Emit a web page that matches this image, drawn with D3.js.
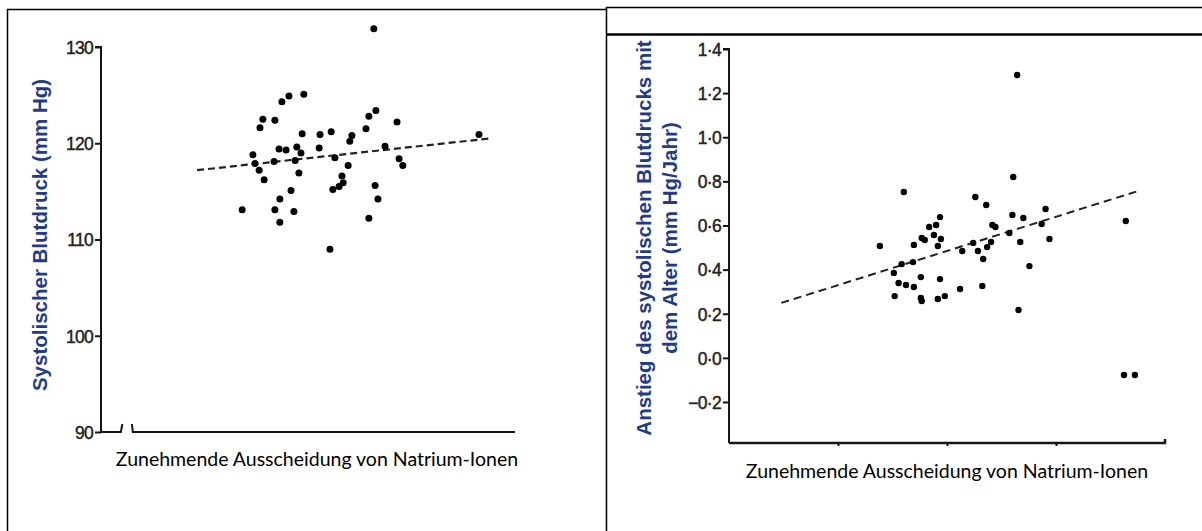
<!DOCTYPE html>
<html>
<head>
<meta charset="utf-8">
<script src="https://cdn.jsdelivr.net/npm/d3@7"></script>
<style>
  body { margin: 0; background: #fff; }
  svg { display: block; }
</style>
</head>
<body>
<div id="chart"></div>
<script>
// left panel: systolic pressure vs sodium excretion (x has no units, 0-100)
const sodiumA = [65.9, 43.7, 45.4, 49.0, 39.1, 38.4, 42.0, 64.7, 66.4, 71.5, 64.0, 48.6, 52.9, 55.6, 60.6, 60.1,
  43.0, 44.7, 47.3, 48.3, 52.7, 68.6, 36.7, 37.2, 38.2, 41.8, 46.9, 56.5, 59.7, 72.0, 72.9, 47.8,
  39.4, 58.2, 58.5, 57.5, 56.0, 45.9, 66.2, 66.9, 43.2, 34.1, 42.0, 46.6, 43.2, 64.7, 55.3, 91.3];
const pressureA = [131.9, 124.3, 124.9, 125.1, 122.5, 121.6, 122.4, 122.8, 123.4, 122.2, 121.5, 121.0, 120.9, 121.2, 120.8, 120.2,
  119.4, 119.3, 119.6, 119.0, 119.5, 119.7, 118.8, 117.9, 117.2, 118.1, 118.2, 118.5, 117.7, 118.4, 117.7, 116.9,
  116.2, 116.6, 115.9, 115.5, 115.2, 115.1, 115.6, 114.2, 114.2, 113.1, 113.1, 112.9, 111.8, 112.2, 109.0, 120.9];
const trendA = [[23.2, 117.2], [94.0, 120.5]];
const ticksA = [90, 100, 110, 120, 130];

// right panel: rise of systolic pressure with age vs sodium excretion
const sodiumB = [66.1, 65.2, 40.1, 56.5, 59.0, 72.6, 65.0, 48.4, 67.5, 91.0, 71.7, 47.5, 45.9, 60.4, 61.1, 64.3,
  47.0, 44.2, 44.9, 48.6, 73.5, 56.0, 60.1, 66.8, 34.6, 42.4, 47.9, 59.2, 53.5, 57.1, 58.3, 42.2,
  39.6, 68.9, 37.8, 44.0, 48.4, 38.9, 40.6, 42.4, 53.0, 58.1, 38.0, 44.0, 44.2, 47.9, 49.5, 66.4, 90.6, 93.1];
const riseB = [1.282, 0.820, 0.752, 0.729, 0.693, 0.675, 0.648, 0.638, 0.634, 0.620, 0.607, 0.602, 0.593, 0.602, 0.593, 0.566,
  0.557, 0.543, 0.534, 0.539, 0.539, 0.521, 0.525, 0.525, 0.507, 0.512, 0.507, 0.502, 0.484, 0.484, 0.448, 0.434,
  0.425, 0.416, 0.385, 0.366, 0.357, 0.339, 0.330, 0.321, 0.312, 0.326, 0.280, 0.271, 0.258, 0.267, 0.280, 0.217, -0.078, -0.078];
const trendB = [[12.0, 0.249], [93.8, 0.756]];
const ticksB = [-0.2, 0, 0.2, 0.4, 0.6, 0.8, 1.0, 1.2, 1.4];
const xTicksB = [25, 50, 75];

const xTitle = "Zunehmende Ausscheidung von Natrium-Ionen";
const yTitleA = ["Systolischer Blutdruck (mm Hg)"];
const yTitleB = ["Anstieg des systolischen Blutdrucks mit", "dem Alter (mm Hg/Jahr)"];

const W = 1202, H = 531;
const ink = "#151515";
const titleBlue = "#1f3c88";
const tickFont = "'Liberation Sans', Arial, sans-serif";

const svg = d3.select("#chart").append("svg")
  .attr("width", W)
  .attr("height", H);

// table frame around both pictures
const frame = svg.append("g").attr("stroke", "#000").attr("fill", "none");
frame.append("path").attr("d", "M7.5,531V9.5H606.5").attr("stroke-width", 1.5);
frame.append("path").attr("d", "M606.5,7V531").attr("stroke-width", 1.5);
frame.append("path").attr("d", "M606,7.5H1202").attr("stroke-width", 1.5);
frame.append("path").attr("d", "M606,34.5H1202").attr("stroke-width", 2.5);

function styleTicks(g) {
  g.selectAll(".tick line").attr("stroke", ink).attr("stroke-width", 2);
  g.selectAll(".tick text")
    .attr("fill", "#222").attr("stroke", "#222").attr("stroke-width", 0.45)
    .attr("font-family", tickFont).attr("font-size", 17.5)
    .attr("letter-spacing", -0.7).attr("dy", "0.36em");
}

// ---------- left panel ----------
const xA = d3.scaleLinear().domain([0, 100]).range([101, 515]);
const yA = d3.scaleLinear().domain([90, 130]).range([432, 47]);
const gA = svg.append("g");

gA.append("g")
  .attr("transform", `translate(${xA(0)},0)`)
  .call(d3.axisLeft(yA).tickValues(ticksA).tickSize(6).tickPadding(2).tickFormat(d3.format("d")))
  .call(g => g.select(".domain").attr("stroke", ink).attr("stroke-width", 2).attr("d", `M-6,${yA(130)}H0V${yA(90)}`))
  .call(styleTicks);

// broken x axis
const breakA = [4.8, 7.7];
gA.append("path")
  .attr("fill", "none").attr("stroke", ink).attr("stroke-width", 2)
  .attr("d", `M${xA(0)},${yA(90)}H${xA(breakA[0])}L${xA(breakA[0]) + 1.5},${yA(90) - 8}`
    + `M${xA(breakA[1]) - 1},${yA(90) - 8}L${xA(breakA[1])},${yA(90)}H${xA(100)}`);

gA.append("path")
  .attr("fill", "none").attr("stroke", "#222").attr("stroke-width", 2.2)
  .attr("stroke-dasharray", "7,4")
  .attr("d", d3.line().x(d => xA(d[0])).y(d => yA(d[1]))(trendA));

gA.selectAll("circle")
  .data(d3.range(sodiumA.length))
  .join("circle")
  .attr("cx", i => xA(sodiumA[i]))
  .attr("cy", i => yA(pressureA[i]))
  .attr("r", 3.5)
  .attr("fill", "#000");

gA.append("text")
  .attr("x", 317).attr("y", 466)
  .attr("text-anchor", "middle")
  .attr("font-family", "Lato, 'Open Sans', sans-serif")
  .attr("font-size", 19.5)
  .attr("fill", "#000")
  .text(xTitle);

gA.append("text")
  .attr("transform", "translate(40,235) rotate(-90)")
  .attr("text-anchor", "middle")
  .attr("dy", "0.35em")
  .attr("font-family", "'Liberation Sans', Arial, sans-serif")
  .attr("font-weight", "bold")
  .attr("font-size", 20.5)
  .attr("fill", titleBlue)
  .text(yTitleA[0]);

// ---------- right panel ----------
const xB = d3.scaleLinear().domain([0, 100]).range([729, 1165]);
const yB = d3.scaleLinear().domain([-0.386, 1.4]).range([443, 49]);
const gB = svg.append("g");

const fmtB = d => (d < 0 ? "\u2212" : "") + Math.abs(d).toFixed(1).replace(".", "\u00b7");
gB.append("g")
  .attr("transform", `translate(${xB(0)},0)`)
  .call(d3.axisLeft(yB).tickValues(ticksB).tickSize(6).tickPadding(2).tickFormat(fmtB))
  .call(g => g.select(".domain").attr("stroke", ink).attr("stroke-width", 2).attr("d", `M-6,${yB(1.4)}H0V${yB.range()[0]}`))
  .call(styleTicks);

gB.append("g")
  .attr("transform", `translate(0,${yB.range()[0]})`)
  .call(d3.axisBottom(xB).tickValues(xTicksB).tickSize(3).tickFormat(""))
  .call(g => g.select(".domain").attr("stroke", ink).attr("stroke-width", 2.5).attr("d", `M${xB(0)},0H${xB(100)}V-4`))
  .call(g => g.selectAll(".tick line").attr("stroke", ink).attr("stroke-width", 2));

gB.append("path")
  .attr("fill", "none").attr("stroke", "#222").attr("stroke-width", 2)
  .attr("stroke-dasharray", "8,5")
  .attr("d", d3.line().x(d => xB(d[0])).y(d => yB(d[1]))(trendB));

gB.selectAll("circle")
  .data(d3.range(sodiumB.length))
  .join("circle")
  .attr("cx", i => xB(sodiumB[i]))
  .attr("cy", i => yB(riseB[i]))
  .attr("r", 3.2)
  .attr("fill", "#000");

gB.append("text")
  .attr("x", 947).attr("y", 478)
  .attr("text-anchor", "middle")
  .attr("font-family", "Lato, 'Open Sans', sans-serif")
  .attr("font-size", 19.5)
  .attr("fill", "#000")
  .text(xTitle);

const titleB = gB.append("text")
  .attr("transform", "translate(656,238) rotate(-90)")
  .attr("text-anchor", "middle")
  .attr("font-family", "'Liberation Sans', Arial, sans-serif")
  .attr("font-weight", "bold")
  .attr("font-size", 20.5)
  .attr("fill", titleBlue);
titleB.selectAll("tspan")
  .data(yTitleB)
  .join("tspan")
  .attr("x", 0)
  .attr("y", (d, i) => (i === 0 ? -5 : 21))
  .text(d => d);
</script>
</body>
</html>
